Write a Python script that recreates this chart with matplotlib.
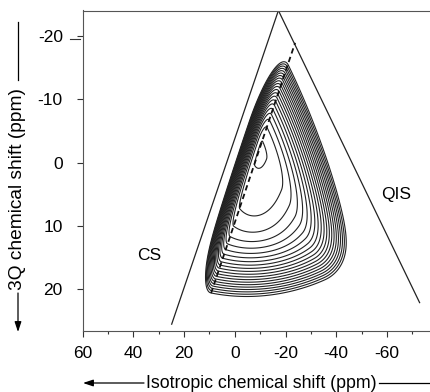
import numpy as np
import matplotlib.pyplot as plt
from matplotlib.lines import Line2D

plt.rcParams['font.family'] = ['Liberation Sans', 'DejaVu Sans']

# axis ranges and ticks (ppm)
x_range = (60, -77)
y_range = (26.5, -24.0)
x_ticks = [60, 40, 20, 0, -20, -40, -60]
y_ticks = [-20, -10, 0, 10, 20]

# guide lines: CS / QIS triangle and dashed centre line
apex = (-17.2, -24.0)
cs_end = (24.9, 25.5)
qis_end = (-72.9, 22.1)
dash_line_x = [9.35, -23.8]
dash_line_y = [20.6, -18.9]

cs_label_pos = (33.8, 14.6)
qis_label_pos = (-63.7, 5.1)

# lineshape, in (CS, QIS) coordinates from the apex
cs_peak, cs_rise, cs_fall = 21.0, 9.0, 32.0
qis_peak, qis_rise, qis_fall = 8.6, 3.2, 25.0
y_cut, y_soft = 15.0, 2.2
n_levels = 21
lowest_level, highest_level = 0.03, 0.985


def lineshape(X, Y):
    u = np.subtract(cs_end, apex)
    u = u / np.hypot(*u)
    q = np.subtract(qis_end, apex)
    q = q / np.hypot(*q)
    rx, ry = X - apex[0], Y - apex[1]
    det = u[0] * q[1] - q[0] * u[1]
    a = (rx * q[1] - q[0] * ry) / det
    b = (u[0] * ry - u[1] * rx) / det
    A = np.where(a < cs_peak, np.exp(-((cs_peak - a) / cs_rise) ** 2),
                 np.exp(-((a - cs_peak) / cs_fall) ** 2))
    B = np.where(b < qis_peak, np.exp(-((qis_peak - b) / qis_rise) ** 2),
                 np.exp(-((b - qis_peak) / qis_fall) ** 2))
    W = 1 / (1 + np.exp((Y - y_cut) / y_soft))
    Z = A * B * W
    return Z / Z.max()


fig = plt.figure(figsize=(4.3, 3.92), dpi=100)
ax = fig.add_axes([82.7 / 430, 61.5 / 392, 347.3 / 430, 320 / 392])

X, Y = np.meshgrid(np.linspace(x_range[0], x_range[1], 700),
                   np.linspace(y_range[1], y_range[0], 600))
Z = lineshape(X, Y)
ax.contour(X, Y, Z, levels=np.geomspace(lowest_level, highest_level, n_levels),
           colors='#222222', linewidths=0.8)

ax.plot([apex[0], cs_end[0]], [apex[1], cs_end[1]], color='#222222', lw=0.9)
ax.plot([apex[0], qis_end[0]], [apex[1], qis_end[1]], color='#222222', lw=0.9)
ax.plot(dash_line_x, dash_line_y, color='#111111', lw=1.3, linestyle=(0, (3, 2)))

ax.text(*cs_label_pos, 'CS', fontsize=12.5, ha='center', va='center')
ax.text(*qis_label_pos, 'QIS', fontsize=12.5, ha='center', va='center')

ax.set_xlim(*x_range)
ax.set_ylim(*y_range)
ax.set_xticks(x_ticks)
ax.set_xticks(np.arange(50, -80, -20), minor=True)
ax.set_yticks(y_ticks)
ax.set_xticklabels([str(t) for t in x_ticks])
ax.set_yticklabels([str(t) for t in y_ticks])
ax.tick_params(axis='x', which='major', direction='out', length=4.3, width=0.8,
               color='#333333', labelsize=12.5, pad=7)
ax.tick_params(axis='x', which='minor', direction='out', length=2.2, width=0.8,
               color='#333333')
ax.tick_params(axis='y', which='major', direction='out', length=4.3, width=0.8,
               color='#333333', labelsize=12.5, pad=10)
for side in ['left', 'bottom', 'top']:
    ax.spines[side].set_linewidth(0.8)
    ax.spines[side].set_color('#555555')
ax.spines['right'].set_visible(False)

# second small mark next to the -20 tick
ax.plot([-0.036, -0.008], [-19.5, -19.5], color='#333333', lw=0.8,
        transform=ax.get_yaxis_transform(), clip_on=False)

# axis titles with arrows
fig.text(18 / 430, 1 - 188.5 / 392, '3Q chemical shift (ppm)', rotation=90,
         fontsize=13.8, ha='center', va='center')
fig.add_artist(Line2D([18 / 430, 18 / 430], [1 - 22 / 392, 1 - 80 / 392],
                      color='black', lw=0.9))
ax.annotate('', xy=(18, 392 - 332), xytext=(18, 392 - 293),
            xycoords='figure pixels', textcoords='figure pixels',
            arrowprops=dict(arrowstyle='-|>,head_length=0.6,head_width=0.2',
                            color='black', lw=0.9, shrinkA=0, shrinkB=0))

fig.text(261 / 430, 1 - 383 / 392, 'Isotropic chemical shift (ppm)',
         fontsize=12.8, ha='center', va='center')
ax.annotate('', xy=(83, 392 - 383), xytext=(144, 392 - 383),
            xycoords='figure pixels', textcoords='figure pixels',
            arrowprops=dict(arrowstyle='-|>,head_length=0.6,head_width=0.2',
                            color='black', lw=0.9, shrinkA=0, shrinkB=0))
fig.add_artist(Line2D([379 / 430, 1.0], [1 - 383 / 392, 1 - 383 / 392],
                      color='black', lw=0.9))

fig.savefig('out.png', dpi=100)
